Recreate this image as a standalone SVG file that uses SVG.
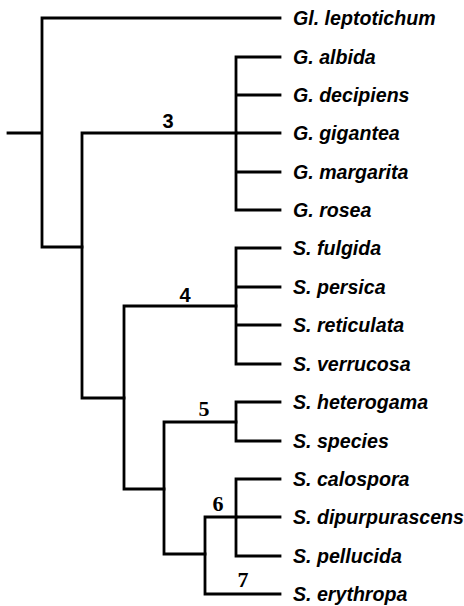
<svg xmlns="http://www.w3.org/2000/svg" width="464" height="606" viewBox="0 0 464 606">
<style>
.e{fill:none;stroke:#000;stroke-width:2.8;stroke-linecap:square}
.t{font-family:"Liberation Sans",Arial,sans-serif;font-style:italic;font-weight:bold;font-size:19.6px;fill:#000}
.n{font-family:"Liberation Sans",Arial,sans-serif;font-weight:bold;font-size:20px;fill:#000;text-anchor:middle}
.s{font-family:"Liberation Serif","Times New Roman",serif;font-weight:bold;font-size:22px;fill:#000;text-anchor:middle}
</style>
<rect width="464" height="606" fill="#fff"/>
<g id="connectors">
<path class="e" d="M8,133H42M42,18V247H82M42,18H280"/>
<path class="e" d="M82,133V398H124M82,133H236"/>
<path class="e" d="M236,57V210M236,57H280M236,95H280M236,133H280M236,172H280M236,210H280"/>
<path class="e" d="M124,306V489H164M124,306H236"/>
<path class="e" d="M236,248V364M236,248H280M236,287H280M236,325H280M236,364H280"/>
<path class="e" d="M164,422V554H205M164,422H236"/>
<path class="e" d="M236,402V441M236,402H280M236,441H280"/>
<path class="e" d="M205,517V594H280M205,517H236"/>
<path class="e" d="M236,479V556M236,479H280M236,517H280M236,556H280"/>
</g>
<g id="n3"><text class="n" x="168" y="128">3</text></g>
<g id="n4"><text class="n" x="185" y="302">4</text></g>
<g id="n5"><text class="s" x="204" y="416">5</text></g>
<g id="n6"><text class="s" x="218" y="511">6</text></g>
<g id="n7"><text class="s" x="243" y="587">7</text></g>
<g id="leaf1"><text class="t" x="293" y="25">Gl. leptotichum</text></g>
<g id="leaf2"><text class="t" x="293" y="64">G. albida</text></g>
<g id="leaf3"><text class="t" x="293" y="102">G. decipiens</text></g>
<g id="leaf4"><text class="t" x="293" y="140">G. gigantea</text></g>
<g id="leaf5"><text class="t" x="293" y="179">G. margarita</text></g>
<g id="leaf6"><text class="t" x="293" y="217">G. rosea</text></g>
<g id="leaf7"><text class="t" x="293" y="255">S. fulgida</text></g>
<g id="leaf8"><text class="t" x="293" y="294">S. persica</text></g>
<g id="leaf9"><text class="t" x="293" y="332">S. reticulata</text></g>
<g id="leaf10"><text class="t" x="293" y="371">S. verrucosa</text></g>
<g id="leaf11"><text class="t" x="293" y="409">S. heterogama</text></g>
<g id="leaf12"><text class="t" x="293" y="448">S. species</text></g>
<g id="leaf13"><text class="t" x="293" y="486">S. calospora</text></g>
<g id="leaf14"><text class="t" x="293" y="524">S. dipurpurascens</text></g>
<g id="leaf15"><text class="t" x="293" y="563">S. pellucida</text></g>
<g id="leaf16"><text class="t" x="293" y="601">S. erythropa</text></g>
</svg>
